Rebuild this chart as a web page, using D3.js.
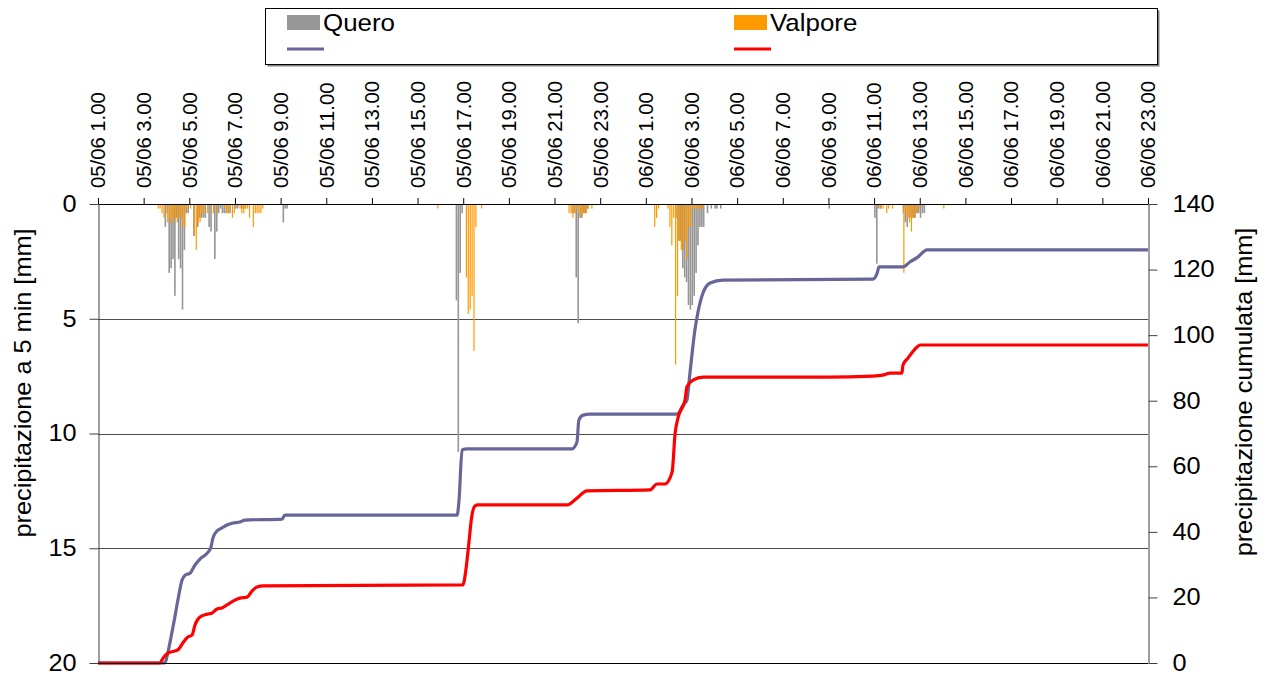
<!DOCTYPE html>
<html>
<head>
<meta charset="utf-8">
<script src="https://cdn.jsdelivr.net/npm/d3@7"></script>
<style>
  body { margin: 0; background: #fff; }
  svg { display: block; font-family: "Liberation Sans", Arial, sans-serif; }
</style>
</head>
<body>
<div id="container"></div>
<script>
// rain every 5 minutes [mm] (only the non zero intervals)
let queroTimes = [
  "05/06 03:55","05/06 04:00","05/06 04:05","05/06 04:10","05/06 04:15","05/06 04:20","05/06 04:25",
  "05/06 04:30","05/06 04:35","05/06 04:40","05/06 04:45","05/06 04:50","05/06 04:55","05/06 05:10",
  "05/06 05:20","05/06 05:25","05/06 05:30","05/06 05:35","05/06 05:40","05/06 05:50","05/06 05:55",
  "05/06 06:05","05/06 06:10","05/06 06:15","05/06 06:20","05/06 06:25","05/06 06:30","05/06 06:35",
  "05/06 06:40","05/06 06:45","05/06 07:00","05/06 07:05","05/06 07:15","05/06 07:20","05/06 07:25",
  "05/06 09:05","05/06 09:10","05/06 09:15",
  "05/06 16:40","05/06 16:45","05/06 16:50","05/06 16:55",
  "05/06 21:45","05/06 21:50","05/06 21:55","05/06 22:00","05/06 22:05","05/06 22:10","05/06 22:15",
  "05/06 22:20","05/06 22:25",
  "06/06 02:20","06/06 02:25","06/06 02:30","06/06 02:35","06/06 02:40","06/06 02:45","06/06 02:50",
  "06/06 02:55","06/06 03:00","06/06 03:05","06/06 03:10","06/06 03:15","06/06 03:20","06/06 03:25",
  "06/06 03:30","06/06 03:40","06/06 03:50","06/06 04:00","06/06 04:05","06/06 04:15",
  "06/06 09:00",
  "06/06 11:00","06/06 11:05","06/06 11:10","06/06 11:15",
  "06/06 12:15","06/06 12:20","06/06 12:25","06/06 12:30","06/06 12:35","06/06 12:40","06/06 12:45",
  "06/06 12:50","06/06 12:55","06/06 13:00","06/06 13:05","06/06 13:10"
];
let queroRain = [
  1.0, 0.4, 3.0, 2.8, 2.4, 4.0, 0.6,
  2.4, 2.8, 4.6, 2.0, 0.4, 0.4, 1.4,
  1.0, 0.6, 0.6, 0.6, 0.6, 1.0, 1.2,
  2.4, 1.2, 0.4, 0.2, 0.4, 0.4, 0.4,
  0.4, 0.4, 0.2, 0.2, 0.2, 0.2, 0.2,
  0.8, 0.2, 0.2,
  4.2, 10.8, 3.0, 0.4,
  0.4, 0.4, 3.2, 5.2, 0.6, 0.6, 0.4,
  0.4, 0.2,
  0.6, 1.6, 1.6, 2.8, 3.2, 3.4, 4.4,
  4.6, 4.4, 4.0, 3.0, 1.8, 1.0, 1.0,
  1.0, 0.4, 0.2, 0.2, 0.2, 0.2,
  0.2,
  0.6, 2.6, 0.2, 0.2,
  0.4, 0.8, 1.0, 0.6, 0.6, 0.6, 0.6,
  0.4, 0.4, 0.6, 0.4, 0.4
];

let valporeTimes = [
  "05/06 03:35","05/06 03:40","05/06 03:45","05/06 03:50","05/06 04:00","05/06 04:05","05/06 04:10",
  "05/06 04:15","05/06 04:20","05/06 04:25","05/06 04:30","05/06 04:35","05/06 04:40","05/06 04:45",
  "05/06 04:50","05/06 05:00","05/06 05:10","05/06 05:15","05/06 05:20","05/06 05:25","05/06 05:30",
  "05/06 05:35","05/06 05:45","05/06 06:00","05/06 06:10","05/06 06:30","05/06 06:35","05/06 06:40",
  "05/06 06:50","05/06 06:55","05/06 07:10","05/06 07:15","05/06 07:20","05/06 07:25","05/06 07:30",
  "05/06 07:35","05/06 07:45","05/06 07:50","05/06 07:55","05/06 08:00","05/06 08:05","05/06 08:10",
  "05/06 15:50",
  "05/06 17:05","05/06 17:10","05/06 17:15","05/06 17:20","05/06 17:25","05/06 17:30","05/06 17:45",
  "05/06 21:35","05/06 21:40","05/06 21:45","05/06 21:50","05/06 21:55","05/06 22:00","05/06 22:05",
  "05/06 22:10","05/06 22:15","05/06 22:20","05/06 22:25","05/06 22:35",
  "06/06 01:20","06/06 01:25","06/06 01:30","06/06 01:55","06/06 02:00","06/06 02:05","06/06 02:10",
  "06/06 02:15","06/06 02:20","06/06 02:25","06/06 02:30","06/06 02:35","06/06 02:40","06/06 02:45",
  "06/06 02:50","06/06 02:55","06/06 03:00","06/06 03:05","06/06 03:10","06/06 03:15","06/06 03:20",
  "06/06 03:25",
  "06/06 11:05","06/06 11:15","06/06 11:20","06/06 11:30","06/06 11:35","06/06 11:45",
  "06/06 12:15","06/06 12:20","06/06 12:25","06/06 12:30","06/06 12:35","06/06 12:40","06/06 12:45",
  "06/06 12:50","06/06 12:55","06/06 14:00"
];
let valporeRain = [
  0.2, 0.2, 0.4, 0.6, 0.8, 0.6, 0.8,
  0.8, 0.6, 0.8, 0.6, 0.6, 1.0, 1.0,
  0.2, 0.2, 1.4, 2.0, 0.8, 0.8, 0.4,
  0.4, 0.4, 0.4, 0.4, 0.2, 0.4, 0.4,
  0.6, 0.4, 0.2, 0.4, 0.4, 0.2, 0.2,
  0.6, 1.0, 0.4, 0.4, 0.4, 0.4, 0.2,
  0.2,
  3.2, 4.8, 4.6, 4.0, 6.4, 1.0, 0.2,
  0.4, 0.4, 0.6, 0.4, 0.2, 0.4, 0.6,
  0.4, 0.4, 0.4, 0.2, 0.2,
  1.0, 0.6, 0.2, 0.2, 1.0, 1.8, 0.6,
  7.0, 4.0, 1.6, 2.0, 2.0, 1.6, 2.4,
  1.0, 1.0, 0.2, 0.2, 0.2, 0.2, 0.2,
  0.2,
  0.2, 0.2, 0.2, 0.4, 0.2, 0.2,
  3.0, 0.4, 0.6, 0.8, 1.2, 0.6, 0.6,
  0.4, 0.2, 0.2
];

// cumulated rain [mm]
let queroCumTimes = [
  "05/06 01:00","05/06 03:56","05/06 04:04","05/06 04:14","05/06 04:22","05/06 04:30","05/06 04:41",
  "05/06 04:49","05/06 05:02","05/06 05:15","05/06 05:28","05/06 05:47","05/06 05:57","05/06 06:02",
  "05/06 06:13","05/06 06:26","05/06 06:39","05/06 06:55","05/06 07:13","05/06 07:26","05/06 09:04",
  "05/06 09:11","05/06 16:44","05/06 16:49","05/06 16:57","05/06 17:10","05/06 21:46","05/06 21:59",
  "05/06 22:04","05/06 22:15","05/06 22:33","06/06 02:22","06/06 02:38","06/06 02:48","06/06 02:56",
  "06/06 03:09","06/06 03:17","06/06 03:30","06/06 03:49","06/06 04:23","06/06 10:57","06/06 11:08",
  "06/06 11:13","06/06 12:16","06/06 12:34","06/06 12:55","06/06 13:19","06/06 23:00"
];
let queroCum = [
  0, 0, 3.4, 9.1, 14.0, 19.2, 25.3,
  26.8, 27.4, 29.9, 31.7, 33.5, 35.4, 38.1,
  40.3, 41.2, 42.1, 42.7, 43.0, 43.6, 43.9,
  45.1, 45.1, 49.7, 65.0, 65.3, 65.3, 67.4,
  74.1, 75.6, 75.9, 75.9, 78.7, 80.2, 88.4,
  101.6, 107.0, 112.8, 115.9, 116.8, 117.1, 118.9,
  120.8, 120.8, 122.3, 123.8, 126.0, 126.0
];

let valporeCumTimes = [
  "05/06 01:00","05/06 03:43","05/06 03:51","05/06 04:04","05/06 04:30","05/06 04:43","05/06 04:56",
  "05/06 05:07","05/06 05:15","05/06 05:28","05/06 05:47","05/06 05:59","05/06 06:13","05/06 06:26",
  "05/06 06:39","05/06 06:55","05/06 07:13","05/06 07:32","05/06 07:45","05/06 07:58","05/06 08:14",
  "05/06 16:59","05/06 17:07","05/06 17:13","05/06 17:23","05/06 17:31","05/06 17:39","05/06 21:33",
  "05/06 21:59","05/06 22:25","06/06 01:11","06/06 01:29","06/06 01:50","06/06 02:09","06/06 02:17",
  "06/06 02:25","06/06 02:43","06/06 02:48","06/06 03:04","06/06 03:31","06/06 08:56","06/06 10:57",
  "06/06 11:23","06/06 11:42","06/06 12:13","06/06 12:16","06/06 12:29","06/06 12:53","06/06 13:01",
  "06/06 23:00"
];
let valporeCum = [
  0, 0, 1.5, 3.0, 4.0, 6.1, 7.9,
  8.5, 11.6, 14.0, 14.9, 15.2, 16.5, 16.8,
  17.7, 18.9, 19.8, 20.1, 22.0, 23.2, 23.5,
  23.8, 28.4, 34.5, 45.1, 47.9, 48.2, 48.2,
  50.3, 52.5, 52.8, 54.6, 54.6, 58.2, 70.1,
  75.0, 80.2, 84.2, 86.3, 87.2, 87.2, 87.5,
  87.8, 88.4, 88.4, 90.9, 93.0, 96.4, 97.0,
  97.0
];

let timeLabels = [
  "05/06 1.00","05/06 3.00","05/06 5.00","05/06 7.00","05/06 9.00","05/06 11.00",
  "05/06 13.00","05/06 15.00","05/06 17.00","05/06 19.00","05/06 21.00","05/06 23.00",
  "06/06 1.00","06/06 3.00","06/06 5.00","06/06 7.00","06/06 9.00","06/06 11.00",
  "06/06 13.00","06/06 15.00","06/06 17.00","06/06 19.00","06/06 21.00","06/06 23.00"
];
let rainTicks = [0, 5, 10, 15, 20];
let cumTicks = [0, 20, 40, 60, 80, 100, 120, 140];

// Width and height
let chart_width = 1264;
let chart_height = 677;
let plot = { left: 98, right: 1148, top: 204, bottom: 663 };

let parseTime = d3.timeParse("%d/%m %H:%M");
let parseLabel = d3.timeParse("%d/%m %H.%M");

let svg = d3.select("#container")
  .append("svg")
  .attr("width", chart_width)
  .attr("height", chart_height);

let xScale = d3.scaleTime()
  .domain([parseLabel(timeLabels[0]), parseLabel(timeLabels[timeLabels.length - 1])])
  .range([plot.left, plot.right]);
let rainScale = d3.scaleLinear().domain([0, 20]).range([plot.top, plot.bottom]);
let cumScale = d3.scaleLinear().domain([0, 140]).range([plot.bottom, plot.top]);

// widen the glyphs a bit, the original font runs wider than Arial
function stretch(sel, k) {
  sel.each(function() {
    let t = d3.select(this);
    let x0 = +t.attr("x") || 0;
    t.attr("x", x0 / k).attr("transform", "scale(" + k + ",1)");
  });
}

// gridlines
svg.append("g")
  .selectAll("line")
  .data(rainTicks.filter(d => d > 0 && d < 20))
  .enter()
  .append("line")
  .attr("x1", plot.left)
  .attr("x2", plot.right)
  .attr("y1", d => Math.round(rainScale(d)) + 0.5)
  .attr("y2", d => Math.round(rainScale(d)) + 0.5)
  .attr("stroke", "#4d4d4d")
  .attr("stroke-width", 1);

// bars
let slotW = xScale(parseTime("05/06 01:05")) - xScale(parseTime("05/06 01:00"));
let queroData = queroTimes.map((t, i) => ({ t: parseTime(t), v: queroRain[i] }));
let valporeData = valporeTimes.map((t, i) => ({ t: parseTime(t), v: valporeRain[i] }));

svg.append("g")
  .selectAll("rect")
  .data(queroData)
  .enter()
  .append("rect")
  .attr("x", d => xScale(d.t))
  .attr("y", plot.top)
  .attr("width", slotW * 0.85)
  .attr("height", d => rainScale(d.v) - plot.top)
  .attr("fill", "#969696");

svg.append("g")
  .selectAll("rect")
  .data(valporeData)
  .enter()
  .append("rect")
  .attr("x", d => xScale(d.t) + slotW * 0.35)
  .attr("y", plot.top)
  .attr("width", 1.2)
  .attr("height", d => rainScale(d.v) - plot.top)
  .attr("fill", "#ff9900");

// cumulated lines
let line = d3.line()
  .x(d => xScale(d.t))
  .y(d => cumScale(d.v))
  .curve(d3.curveMonotoneX);

let queroLine = queroCumTimes.map((t, i) => ({ t: parseTime(t), v: queroCum[i] }));
let valporeLine = valporeCumTimes.map((t, i) => ({ t: parseTime(t), v: valporeCum[i] }));

svg.append("path")
  .datum(queroLine)
  .attr("d", line)
  .attr("fill", "none")
  .attr("stroke", "#666699")
  .attr("stroke-width", 3.2)
  .attr("stroke-linejoin", "round");

svg.append("path")
  .datum(valporeLine)
  .attr("d", line)
  .attr("fill", "none")
  .attr("stroke", "#ff0000")
  .attr("stroke-width", 3.2)
  .attr("stroke-linejoin", "round");

// top time axis
let topAxis = d3.axisTop(xScale)
  .tickValues(timeLabels.map(parseLabel))
  .tickFormat((d, i) => timeLabels[i])
  .tickSize(6)
  .tickSizeOuter(0);
let gTop = svg.append("g")
  .attr("transform", "translate(0," + plot.top + ")")
  .call(topAxis);
gTop.select(".domain").attr("stroke", "#000");
gTop.selectAll(".tick line").attr("stroke", "#000");
gTop.selectAll("text")
  .attr("x", 0)
  .attr("y", 0)
  .attr("dy", "0.35em")
  .attr("transform", "translate(0,-16) rotate(-90) scale(1.04,1)")
  .style("text-anchor", "start")
  .style("font-size", "19.5px")
  .style("font-family", "'Liberation Sans', Arial, sans-serif")
  .attr("fill", "#000");

// bottom line
svg.append("line")
  .attr("x1", plot.left)
  .attr("x2", plot.right)
  .attr("y1", plot.bottom + 0.5)
  .attr("y2", plot.bottom + 0.5)
  .attr("stroke", "#000");

// left axis
let gLeft = svg.append("g")
  .attr("transform", "translate(" + (plot.left + 0.5) + ",0)")
  .call(d3.axisLeft(rainScale).tickValues(rainTicks).tickSize(9).tickSizeOuter(0).tickPadding(13));
gLeft.select(".domain").attr("stroke", "#404040");
gLeft.selectAll(".tick line").attr("stroke", "#404040");
gLeft.selectAll("text")
  .style("font-size", "23px")
  .style("font-family", "'Liberation Sans', Arial, sans-serif")
  .attr("fill", "#000")
  .call(stretch, 1.1);

// right axis
let gRight = svg.append("g")
  .attr("transform", "translate(" + (plot.right + 0.5) + ",0)")
  .call(d3.axisRight(cumScale).tickValues(cumTicks).tickSize(9).tickSizeOuter(0).tickPadding(15));
gRight.select(".domain").attr("stroke", "#404040");
gRight.selectAll(".tick line").attr("stroke", "#404040");
gRight.selectAll("text")
  .style("font-size", "23px")
  .style("font-family", "'Liberation Sans', Arial, sans-serif")
  .attr("fill", "#000")
  .call(stretch, 1.1);

// axis titles
svg.append("text")
  .attr("transform", "translate(23,383) rotate(-90) scale(1.1,1)")
  .attr("text-anchor", "middle")
  .attr("dy", "0.35em")
  .style("font-size", "23px")
  .text("precipitazione a 5 min [mm]");

svg.append("text")
  .attr("transform", "translate(1244,392) rotate(-90) scale(1.1,1)")
  .attr("text-anchor", "middle")
  .attr("dy", "0.35em")
  .style("font-size", "23px")
  .text("precipitazione cumulata [mm]");

// legend
let legend = svg.append("g").attr("id", "legend");
legend.append("rect")
  .attr("x", 267.5).attr("y", 10.5)
  .attr("width", 892).attr("height", 56)
  .attr("fill", "#808080");
legend.append("rect")
  .attr("x", 265.5).attr("y", 8.5)
  .attr("width", 892).attr("height", 56)
  .attr("fill", "#fff")
  .attr("stroke", "#000");

let legendItems = [
  { name: "Quero", bar: "#969696", line: "#666699", x: 287 },
  { name: "Valpore", bar: "#ff9900", line: "#ff0000", x: 734 }
];
legend.selectAll(".swatch")
  .data(legendItems)
  .enter()
  .append("rect")
  .attr("class", "swatch")
  .attr("x", d => d.x)
  .attr("y", 15)
  .attr("width", 33)
  .attr("height", 15)
  .attr("fill", d => d.bar);
legend.selectAll(".lname")
  .data(legendItems)
  .enter()
  .append("text")
  .attr("class", "lname")
  .attr("x", d => d.x + 36)
  .attr("y", 31)
  .style("font-size", "24px")
  .text(d => d.name)
  .call(stretch, 1.08);
legend.selectAll(".lline")
  .data(legendItems)
  .enter()
  .append("line")
  .attr("class", "lline")
  .attr("x1", d => d.x)
  .attr("x2", d => d.x + 37)
  .attr("y1", 49)
  .attr("y2", 49)
  .attr("stroke", d => d.line)
  .attr("stroke-width", 3);
</script>
</body>
</html>
